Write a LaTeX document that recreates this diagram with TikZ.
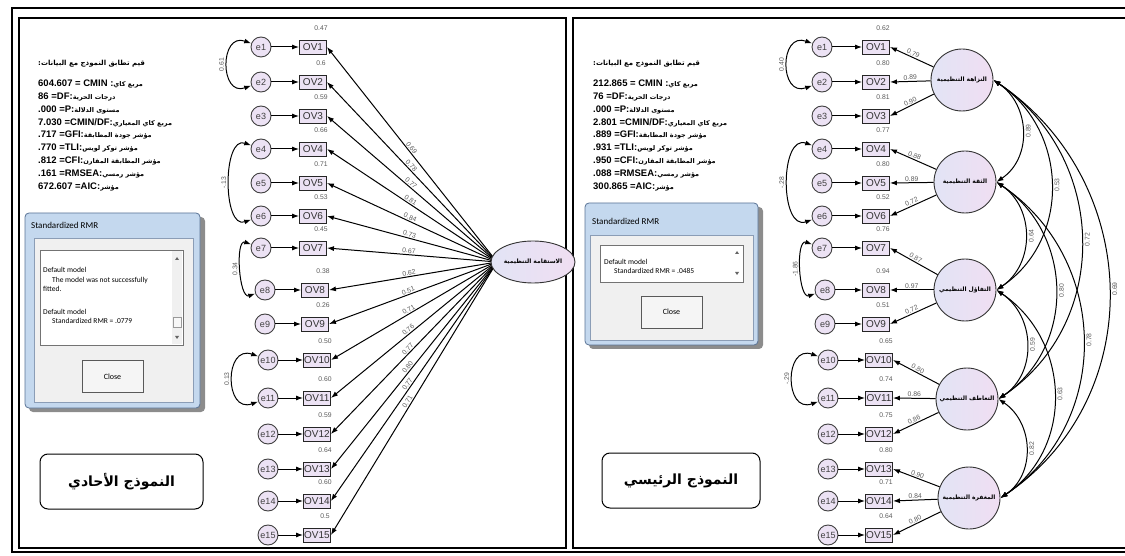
\documentclass[tikz,border=0pt]{standalone}
\usepackage{fontspec}
\setmainfont{Liberation Sans}
\newfontfamily\arfont[Script=Arabic]{DejaVu Sans}
\newfontfamily\winfont{Carlito}
\TeXXeTstate=1
\usetikzlibrary{arrows.meta, positioning, shapes.geometric}
\definecolor{lav}{RGB}{236,226,244}
\definecolor{latA}{RGB}{226,228,245}
\definecolor{latB}{RGB}{240,222,242}
\definecolor{winblue}{RGB}{196,216,238}
\definecolor{winedge}{RGB}{90,115,150}
\definecolor{wingray}{RGB}{240,240,240}
\newcommand{\artext}[1]{{\arfont\beginR #1\endR}}
\newcommand{\arsmall}[1]{{\arfont\fontsize{6.5}{6.5}\selectfont\beginR #1\endR}}

\begin{document}
\begin{tikzpicture}[x=1pt,y=1pt]
\tikzset{
  err/.style={circle, draw=black!75, fill=lav, line width=0.9pt, minimum size=20pt, inner sep=0pt, text=black!75, font=\fontsize{9}{9}\selectfont},
  obs/.style={rectangle, draw=black!85, fill=lav, line width=0.9pt, minimum width=27pt, minimum height=14pt, inner sep=0pt, text=black!80, font=\fontsize{10}{10}\selectfont},
  lat/.style={circle, draw=black!80, left color=latA, right color=latB, line width=0.9pt, minimum size=62pt, inner sep=0pt, font=\arfont\bfseries\fontsize{6}{6}\selectfont},
  val/.style={inner sep=1pt, text=black!65, font=\fontsize{6.8}{6.8}\selectfont},
  load/.style={line width=1pt, -{Latex[length=7pt,width=5pt]}},
  cov/.style={line width=1pt, {Latex[length=7pt,width=5pt]}-{Latex[length=7pt,width=5pt]}},
  stat/.style={anchor=base west, inner sep=0pt, font=\bfseries\fontsize{9.5}{9.5}\selectfont},
  frame/.style={line width=1.6pt},
  win/.style={draw=winedge, fill=winblue, rounded corners=4pt, line width=0.8pt},
  wintext/.style={anchor=base west, inner sep=0pt, font=\winfont\fontsize{7.5}{7.5}\selectfont},
  closebtn/.style={draw=black!65, fill=black!4, minimum width=61pt, minimum height=32pt, font=\winfont\fontsize{8}{8}\selectfont},
  tag/.style={draw, rounded corners=8pt, line width=1pt, minimum height=55pt, font=\arfont\bfseries\fontsize{14}{14}\selectfont}
}
\useasboundingbox (0,0) rectangle (1125,555);

% frames
\draw[frame] (12,3) rectangle (1135,547);
\draw[frame] (19,7) rectangle (566,537);
\draw[frame] (573,7) rectangle (1132,537);

% fit values, single factor model
\node[stat] (lt) at (38,489) {\artext{\fontsize{7}{7}\selectfont\bfseries قيم تطابق النموذج مع البيانات:}};
\node[stat] (l1) at (38,468) {604.607 = CMIN :\arsmall{مربع كاي}};
\node[stat] (l2) at (38,455) {86 =DF:\arsmall{درجات الحرية}};
\node[stat] (l3) at (38,442) {.000 =P:\arsmall{مستوى الدلالة}};
\node[stat] (l4) at (38,429) {7.030 =CMIN/DF:\arsmall{مربع كاي المعياري}};
\node[stat] (l5) at (38,417) {.717 =GFI:\arsmall{مؤشر جودة المطابقة}};
\node[stat] (l6) at (38,404) {.770 =TLI:\arsmall{مؤشر توكر لويس}};
\node[stat] (l7) at (38,391) {.812 =CFI:\arsmall{مؤشر المطابقة المقارن}};
\node[stat] (l8) at (38,378) {.161 =RMSEA:\arsmall{مؤشر رمسي}};
\node[stat] (l9) at (38,365) {672.607 =AIC:\arsmall{مؤشر}};

% fit values, main model
\node[stat] (rt) at (593,489) {\artext{\fontsize{7}{7}\selectfont\bfseries قيم تطابق النموذج مع البيانات:}};
\node[stat] (r1) at (593,468) {212.865 = CMIN :\arsmall{مربع كاي}};
\node[stat] (r2) at (593,455) {76 =DF:\arsmall{درجات الحرية}};
\node[stat] (r3) at (593,442) {.000 =P:\arsmall{مستوى الدلالة}};
\node[stat] (r4) at (593,429) {2.801 =CMIN/DF:\arsmall{مربع كاي المعياري}};
\node[stat] (r5) at (593,417) {.889 =GFI:\arsmall{مؤشر جودة المطابقة}};
\node[stat] (r6) at (593,404) {.931 =TLI:\arsmall{مؤشر توكر لويس}};
\node[stat] (r7) at (593,391) {.950 =CFI:\arsmall{مؤشر المطابقة المقارن}};
\node[stat] (r8) at (593,378) {.088 =RMSEA:\arsmall{مؤشر رمسي}};
\node[stat] (r9) at (593,365) {300.865 =AIC:\arsmall{مؤشر}};

% left window
\fill[black!45, rounded corners=4pt] (29,143) rectangle (205,338);
\draw[win] (25,147) rectangle (200,342);
\node[wintext, font=\winfont\fontsize{9}{9}\selectfont] (lwt) at (31,326) {Standardized RMR};
\draw[winedge!70, fill=wingray] (34,153) rectangle (193,317);
\draw[black!55, fill=white] (40,210) rectangle (183,305);
\fill[black!6] (172,211) rectangle (182,304);
\draw[black!40, fill=black!3] (173,228) rectangle (181,238);
\fill[black!60] (175,295) -- (179,295) -- (177,298) -- cycle;
\fill[black!60] (175,219) -- (179,219) -- (177,216) -- cycle;
\node[wintext] (lw1) at (43,282) {Default model};
\node[wintext] (lw2) at (52,272) {The model was not successfully};
\node[wintext] (lw3) at (43,263) {fitted.};
\node[wintext] (lw4) at (43,240) {Default model};
\node[wintext] (lw5) at (52,231) {Standardized RMR = .0779};
\node[closebtn] (lclose) at (112.5,178.5) {Close};

% right window
\fill[black!45, rounded corners=4pt] (589,206) rectangle (763,348);
\draw[win] (585,210) rectangle (758,352);
\node[wintext, font=\winfont\fontsize{9}{9}\selectfont] (rwt) at (592,330) {Standardized RMR};
\draw[winedge!70, fill=wingray] (590,215) rectangle (753,320);
\draw[black!55, fill=white] (600,273) rectangle (743,310);
\fill[black!60] (735,301) -- (739,301) -- (737,304) -- cycle;
\fill[black!60] (735,283) -- (739,283) -- (737,280) -- cycle;
\node[wintext] (rw1) at (604,290) {Default model};
\node[wintext] (rw2) at (614,281) {Standardized RMR = .0485};
\node[closebtn] (rclose) at (671.5,243) {Close};

% model names
\node[tag, minimum width=163pt] (ltag) at (121.5,73.5) {\artext{النموذج الأحادي}};
\node[tag, minimum width=158pt] (rtag) at (681,74.5) {\artext{النموذج الرئيسي}};

% single factor model
\foreach \i/\y/\ex/\ox/\rr in {1/508/261/313/0.47, 2/473/261/313/0.6, 3/439/261/313/0.59, 4/406/261/313/0.66, 5/372/261/313/0.71, 6/339/261/313/0.53, 7/307/261/313/0.45, 8/265/265/315/0.38, 9/231/265/315/0.26, 10/195/268/317/0.50, 11/157/268/317/0.60, 12/121/268/317/0.59, 13/86/268/317/0.64, 14/54/268/317/0.60, 15/20/268/317/0.5}{
  \node[err] (le\i) at (\ex,\y) {e\i};
  \node[obs] (lov\i) at (\ox,\y) {OV\i};
  \node[val] (lr\i) at ([xshift=8pt,yshift=19pt]lov\i.center) {\rr};
  \draw[load] (le\i) -- (lov\i);
}
\coordinate (lfp) at (497,293);
\foreach \i/\ld in {1/0.69, 2/0.78, 3/0.77, 4/0.81, 5/0.84, 6/0.73, 7/0.67, 8/0.62, 9/0.51, 10/0.71, 11/0.76, 12/0.77, 13/0.80, 14/0.77, 15/0.71}
  \draw[load] (lfp) -- node[val, sloped, above, pos=0.52] {\ld} (lov\i.east);
\node[ellipse, draw=black!80, left color=latA, right color=latB, line width=0.9pt, minimum width=84pt, minimum height=42pt, inner sep=0pt, font=\arfont\bfseries\fontsize{6}{6}\selectfont] (lf) at (533,293) {\artext{الاستقامة التنظيمية}};

\draw[cov] (le1.160) to[out=160, in=200, looseness=2.05] node[val, pos=0.5, rotate=90, anchor=south, inner sep=3pt] {0.61} (le2.200);
\draw[cov] (le4.160) to[out=160, in=200, looseness=1.06] node[val, pos=0.5, rotate=90, anchor=south, inner sep=3pt] {-.13} (le6.200);
\draw[cov] (le7.160) to[out=160, in=200, looseness=0.9] node[val, pos=0.5, rotate=90, anchor=south, inner sep=3pt] {0.34} (le8.200);
\draw[cov] (le10.160) to[out=160, in=200, looseness=2.06] node[val, pos=0.5, rotate=90, anchor=south, inner sep=3pt] {0.13} (le11.200);

% main model
\foreach \i/\y/\ex/\ox/\rr in {1/508/822/876/0.62, 2/473/822/876/0.80, 3/439/822/876/0.81, 4/406/822/876/0.77, 5/372/822/876/0.80, 6/339/822/876/0.52, 7/307/822/876/0.76, 8/265/825/876/0.94, 9/231/825/876/0.51, 10/195/828/879/0.65, 11/157/828/879/0.74, 12/121/828/879/0.75, 13/86/828/879/0.80, 14/54/828/879/0.71, 15/20/828/879/0.64}{
  \node[err] (re\i) at (\ex,\y) {e\i};
  \node[obs] (rov\i) at (\ox,\y) {OV\i};
  \node[val] (rr\i) at ([xshift=7pt,yshift=19pt]rov\i.center) {\rr};
  \draw[load] (re\i) -- (rov\i);
}

\node[lat] (f1) at (962,475) {\artext{النزاهة التنظيمية}};
\node[lat] (f2) at (965,373) {\artext{الثقة التنظيمية}};
\node[lat] (f3) at (965,265) {\artext{التفاؤل التنظيمي}};
\node[lat] (f4) at (967,156) {\artext{التعاطف التنظيمي}};
\node[lat] (f5) at (969,57) {\artext{المغفرة التنظيمية}};

\foreach \fa/\i/\ld in {1/1/0.79, 1/2/0.89, 1/3/0.90, 2/4/0.88, 2/5/0.89, 2/6/0.72, 3/7/0.87, 3/8/0.97, 3/9/0.72, 4/10/0.80, 4/11/0.86, 4/12/0.86, 5/13/0.90, 5/14/0.84, 5/15/0.80}
  \draw[load] (f\fa) -- node[val, sloped, above, pos=0.5] {\ld} (rov\i.east);

\foreach \fa/\fb/\cv in {1/2/0.89, 1/3/0.53, 1/4/0.72, 1/5/0.69, 2/3/0.64, 2/4/0.80, 2/5/0.78, 3/4/0.59, 3/5/0.63, 4/5/0.82}
  \draw[cov] (f\fa.east) to[out=-34, in=34, looseness=1.1] node[val, pos=0.5, rotate=90, anchor=north, inner sep=3pt] {\cv} (f\fb.east);

\draw[cov] (re1.160) to[out=160, in=200, looseness=2.14] node[val, pos=0.5, rotate=90, anchor=south, inner sep=3pt] {0.40} (re2.200);
\draw[cov] (re4.160) to[out=160, in=200, looseness=1.2] node[val, pos=0.5, rotate=90, anchor=south, inner sep=3pt] {-.28} (re6.200);
\draw[cov] (re7.160) to[out=160, in=200, looseness=0.93] node[val, pos=0.5, rotate=90, anchor=south, inner sep=3pt] {-1.86} (re8.200);
\draw[cov] (re10.160) to[out=160, in=200, looseness=2.06] node[val, pos=0.5, rotate=90, anchor=south, inner sep=3pt] {-.29} (re11.200);
\end{tikzpicture}
\end{document}
